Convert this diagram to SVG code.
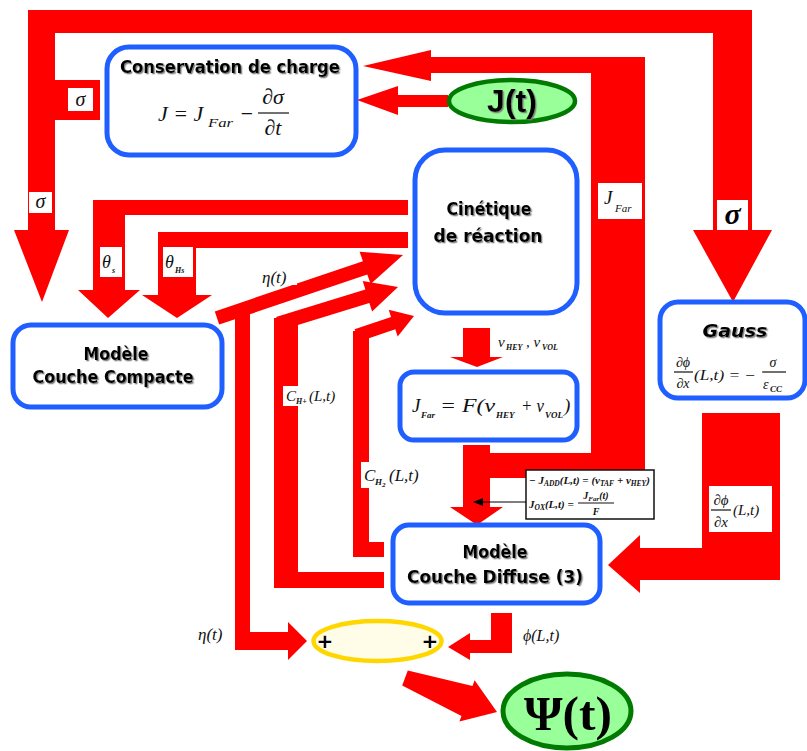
<svg xmlns="http://www.w3.org/2000/svg" width="807" height="751" viewBox="0 0 807 751">
<defs>
<style>
.band{fill:#ff0000}
.lb{fill:#ffffff}
.box{fill:#ffffff;stroke:#1f5fff;stroke-width:5}
.title{font-family:"DejaVu Sans","Liberation Sans",sans-serif;font-weight:bold;font-size:17px;text-anchor:middle;fill:#000;filter:url(#sh)}
.m{font-family:"Liberation Serif","DejaVu Serif",serif;font-style:italic;fill:#111}
.sb{font-family:"Liberation Serif","DejaVu Serif",serif;font-style:italic;font-weight:bold;fill:#111}
.bar{stroke:#111;stroke-width:1.2}
</style>
<filter id="sh" x="-10%" y="-30%" width="120%" height="160%">
<feDropShadow dx="1.3" dy="1.3" stdDeviation="0.6" flood-color="#777777" flood-opacity="0.9"/>
</filter>
<marker id="ah" markerWidth="10" markerHeight="8" refX="9" refY="4" orient="auto" markerUnits="userSpaceOnUse">
<path d="M0,0 L10,4 L0,8 z" fill="#000"/>
</marker>
</defs>
<rect width="807" height="751" fill="#ffffff"/>

<g id="connectors">
<!-- outer sigma loop -->
<polygon class="band" points="28,230 28,10 752,10 752,230 772,230 733,302 693,230 713,230 713,33 55,33 55,80 100,80 100,120 55,120 55,230 69,230 42,302 14,230"/>
<rect class="lb" x="68" y="88" width="25" height="23"/>
<text class="m" x="80.5" y="106" font-size="20" text-anchor="middle">σ</text>
<rect class="lb" x="29" y="192" width="23" height="21"/>
<text class="m" x="40.5" y="208" font-size="20" text-anchor="middle">σ</text>
<rect class="lb" x="717" y="200" width="31" height="30"/>
<text x="732.5" y="224" font-size="30" font-weight="bold" text-anchor="middle" font-family="Liberation Serif, serif" font-style="italic">σ</text>

<!-- J_Far loop -->
<polygon class="band" points="431,57 645,57 645,478 463,478 463,453 591,453 591,73 431,73 431,81 363,66 431,50"/>
<rect class="lb" x="598" y="183" width="44" height="36"/>
<text class="m" x="604" y="204" font-size="19">J</text>
<text class="m" x="615" y="212" font-size="11">Far</text>

<!-- J(t) arrow -->
<polygon class="band" points="448,95 398,95 398,86 357,100 398,115 398,107 448,107"/>

<!-- theta arrows -->
<polygon class="band" points="408,200 93,200 93,290 78,290 108,318 140,290 125,290 125,215 408,215"/>
<rect class="lb" x="100" y="247" width="22" height="30"/>
<text class="m" x="102" y="268" font-size="18">θ</text>
<text class="sb" x="112" y="273" font-size="8">s</text>
<polygon class="band" points="408,232 158,232 158,295 142,295 177,318 212,295 196,295 196,248 408,248"/>
<rect class="lb" x="163" y="247" width="30" height="30"/>
<text class="m" x="165" y="268" font-size="18">θ</text>
<text class="sb" x="175" y="273" font-size="8">Hs</text>

<!-- eta(t) arrow -->
<polygon class="band" points="214.8,311.4 362.9,261.2 359.6,251.7 403,255 370.6,283.9 367.3,274.4 219.2,324.6"/>
<polygon class="band" points="235,312 250,312 250,632 288,632 288,622 307,641 288,660 288,650 235,650"/>
<rect class="lb" x="258" y="266" width="39" height="19"/>
<text class="m" x="262" y="283" font-size="17">η(t)</text>
<text class="m" x="198" y="640" font-size="17">η(t)</text>

<!-- C_H+ arrow -->
<polygon class="band" points="276,317 365.4,289.6 362.7,281 398,287 372.1,311.6 369.4,303 284,329.2"/>
<polygon class="band" points="274,318 298,318 298,572 384,572 384,588 274,588"/>
<rect class="lb" x="283" y="386" width="58" height="20"/>
<text class="m" x="286" y="401" font-size="15">C</text>
<text class="sb" x="296" y="404" font-size="8">H+</text>
<text class="m" x="309" y="401" font-size="15">(L,t)</text>

<!-- C_H2 arrow -->
<polygon class="band" points="354.5,329.3 391.1,316.9 388.7,309.8 414,316 397.7,336.4 395.3,329.3 360.1,341.2"/>
<polygon class="band" points="353,331 369,331 369,542 384,542 384,557 353,557"/>
<rect class="lb" x="361" y="462" width="66" height="26"/>
<text class="m" x="364" y="481" font-size="17">C</text>
<text class="sb" x="375" y="485" font-size="9">H</text>
<text class="sb" x="382" y="487" font-size="7">2</text>
<text class="m" x="389" y="481" font-size="17">(L,t)</text>

<!-- v arrow -->
<polygon class="band" points="463,328 490,328 490,357 503,357 477,367 450,357 463,357"/>
<text x="498" y="347" font-size="15" class="m">v</text>
<text x="506" y="350" font-size="8" class="sb">HEY</text>
<text x="526" y="347" font-size="15" class="m">, v</text>
<text x="542" y="350" font-size="8" class="sb">VOL</text>

<!-- J_Far=F -> Diffuse arrow -->
<polygon class="band" points="463,445 490,445 490,507 503,507 477,525 450,507 463,507"/>

<!-- Gauss -> Diffuse arrow -->
<polygon class="band" points="702,413 780,413 780,580 640,580 640,593 608,565 640,535 640,548 702,548"/>
<rect class="lb" x="709" y="486" width="63" height="46"/>
<text class="m" x="721" y="505" font-size="15" text-anchor="middle">∂ϕ</text>
<line class="bar" x1="711" y1="510" x2="731" y2="510"/>
<text class="m" x="721" y="527" font-size="15" text-anchor="middle">∂x</text>
<text class="m" x="733" y="515" font-size="15">(L,t)</text>

<!-- phi arrow -->
<polygon class="band" points="491,613 512,613 512,653 470,653 470,660 448,647 470,633 470,640 491,640"/>
<text class="m" x="523" y="641" font-size="16">ϕ(L,t)</text>

<!-- sum -> Psi arrow -->
<polygon class="band" points="407.8,670.5 472.5,685.9 474.6,680.3 497,712 459.4,721.5 461.5,715.9 402.2,685.5"/>

<!-- annotation box -->
<rect x="526" y="470" width="128" height="49" fill="#ffffff" stroke="#111" stroke-width="1.5"/>
<line x1="526" y1="502" x2="474" y2="502" stroke="#000" stroke-width="1.2" marker-end="url(#ah)"/>
<text class="sb" x="529" y="484" font-size="11">− J<tspan font-size="7.5" dy="2">ADD</tspan><tspan dy="-2">(L,t) = (v</tspan><tspan font-size="7.5" dy="2">TAF</tspan><tspan dy="-2"> + v</tspan><tspan font-size="7.5" dy="2">HEY</tspan><tspan dy="-2">)</tspan></text>
<text class="sb" x="529" y="508" font-size="11">J<tspan font-size="7.5" dy="2">OX</tspan><tspan dy="-2">(L,t) =</tspan></text>
<text class="sb" x="596" y="499" font-size="10" text-anchor="middle">J<tspan font-size="7" dy="2">Far</tspan><tspan dy="-2">(t)</tspan></text>
<line class="bar" x1="578" y1="503" x2="614" y2="503"/>
<text class="sb" x="596" y="515" font-size="10" text-anchor="middle">F</text>
</g>

<g id="node-conservation">
<rect class="box" x="107" y="47" width="249" height="108" rx="22"/>
<text class="title" x="230" y="73" textLength="220" lengthAdjust="spacingAndGlyphs">Conservation de charge</text>
<text class="m" x="158" y="121" font-size="22">J = J</text>
<text class="m" x="208" y="127" font-size="13" textLength="25" lengthAdjust="spacingAndGlyphs">Far</text>
<text class="m" x="239" y="121" font-size="22">−</text>
<text class="m" x="273" y="104" font-size="22" text-anchor="middle">∂σ</text>
<line class="bar" x1="258" y1="113" x2="289" y2="113"/>
<text class="m" x="273" y="135" font-size="22" text-anchor="middle">∂t</text>
</g>

<g id="node-jt">
<ellipse cx="512" cy="101" rx="63" ry="21" fill="#99ff99" stroke="#007a00" stroke-width="4.5"/>
<text x="512" y="112" font-family="Liberation Sans, Arial, sans-serif" font-weight="bold" font-size="32" text-anchor="middle" fill="#000" filter="url(#sh)">J(t)</text>
</g>

<g id="node-cinetique">
<rect class="box" x="415" y="150" width="162" height="163" rx="30"/>
<text class="title" x="489" y="215" textLength="85" lengthAdjust="spacingAndGlyphs">Cinétique</text>
<text class="title" x="488" y="242" textLength="109" lengthAdjust="spacingAndGlyphs">de réaction</text>
</g>

<g id="node-compacte">
<rect class="box" x="13" y="325" width="209" height="82" rx="18"/>
<text class="title" x="116" y="360" textLength="65" lengthAdjust="spacingAndGlyphs">Modèle</text>
<text class="title" x="113" y="383" textLength="161" lengthAdjust="spacingAndGlyphs">Couche Compacte</text>
</g>

<g id="node-jfar">
<rect class="box" x="400" y="372" width="177" height="68" rx="14"/>
<text class="m" x="412" y="412" font-size="19">J</text>
<text class="sb" x="421" y="418" font-size="9">Far</text>
<text class="m" x="440" y="412" font-size="19" textLength="55" lengthAdjust="spacingAndGlyphs">= F(v</text>
<text class="sb" x="496" y="418" font-size="9">HEY</text>
<text class="m" x="521" y="412" font-size="19" textLength="23" lengthAdjust="spacingAndGlyphs">+ v</text>
<text class="sb" x="545" y="418" font-size="9">VOL</text>
<text class="m" x="564" y="412" font-size="19">)</text>
</g>

<g id="node-gauss">
<rect class="box" x="660" y="302" width="145" height="96" rx="18"/>
<text class="title" x="735" y="337" font-size="19" font-style="italic" textLength="65" lengthAdjust="spacingAndGlyphs">Gauss</text>
<text class="m" x="683" y="367" font-size="14" text-anchor="middle">∂ϕ</text>
<line class="bar" x1="674" y1="372" x2="693" y2="372"/>
<text class="m" x="683" y="388" font-size="14" text-anchor="middle">∂x</text>
<text class="m" x="694" y="380" font-size="14" textLength="62" lengthAdjust="spacingAndGlyphs">(L,t) = −</text>
<text class="m" x="773" y="367" font-size="14" text-anchor="middle">σ</text>
<line class="bar" x1="762" y1="372" x2="786" y2="372"/>
<text class="m" x="763" y="389" font-size="14">ε</text>
<text class="sb" x="770" y="392" font-size="9">CC</text>
</g>

<g id="node-diffuse">
<rect class="box" x="393" y="525" width="207" height="78" rx="16"/>
<text class="title" x="495" y="558" textLength="65" lengthAdjust="spacingAndGlyphs">Modèle</text>
<text class="title" x="495" y="583" textLength="176" lengthAdjust="spacingAndGlyphs">Couche Diffuse (3)</text>
</g>

<g id="node-sum">
<ellipse cx="377.5" cy="641" rx="64" ry="20" fill="#fffde8" stroke="#ffd700" stroke-width="4.5"/>
<text x="325" y="648" font-family="DejaVu Sans, sans-serif" font-weight="bold" font-size="20" text-anchor="middle" fill="#000">+</text>
<text x="430" y="648" font-family="DejaVu Sans, sans-serif" font-weight="bold" font-size="20" text-anchor="middle" fill="#000">+</text>
</g>

<g id="node-psi">
<ellipse cx="567" cy="711" rx="64" ry="37" fill="#99ff99" stroke="#007a00" stroke-width="5"/>
<text x="568" y="730" font-family="Liberation Serif, serif" font-weight="bold" font-size="48" text-anchor="middle" fill="#000" textLength="88" lengthAdjust="spacingAndGlyphs">Ψ(t)</text>
</g>
</svg>
